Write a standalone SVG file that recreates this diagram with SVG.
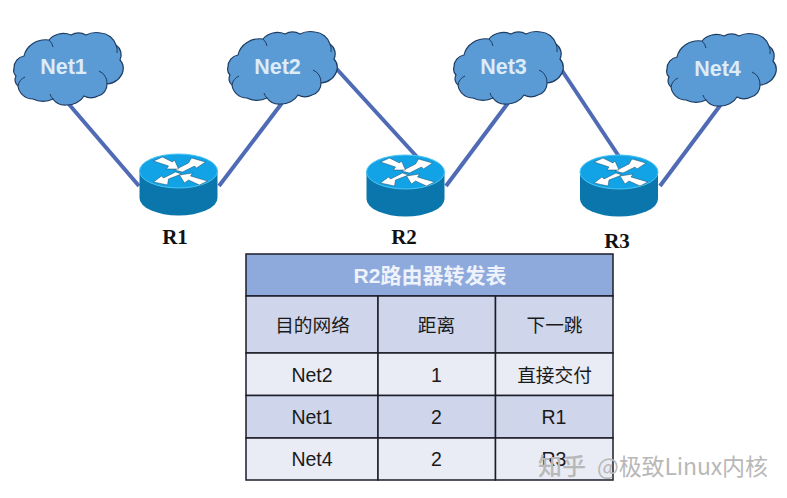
<svg xmlns="http://www.w3.org/2000/svg" width="787" height="498" viewBox="0 0 787 498">
<style>
.link{stroke:#4f6bb5;stroke-width:4;fill:none}
.cl{fill:#5b9bd5;stroke:#1d3c63;stroke-width:1.2}
.fold{fill:none;stroke:#1d3c63;stroke-width:1}
.cn{font:bold 21.5px "Liberation Sans",sans-serif;fill:#dcebf8;text-anchor:middle}
.rn{font:bold 21px "Liberation Serif",serif;fill:#111;text-anchor:middle}
.cell{stroke:#1c1c28;stroke-width:1.5}
.h{fill:#cfd5ea}.a{fill:#e9ebf5}.t{fill:#8ea9db}
.tx{font:19.500px "Liberation Sans","Noto Sans CJK SC",sans-serif;fill:#1a1a1a;text-anchor:middle}
.zh{font-size:18.700px}
.ttl{font:bold 21px "Liberation Sans","Noto Sans CJK SC",sans-serif;fill:#eef2fb;text-anchor:middle}
.wm{font-family:"Noto Sans CJK SC","Noto Sans",sans-serif;fill:#b8b8b8}
.wz{font-size:24px;font-weight:500}
.wa{font-size:23px}
.arw{fill:#fff;stroke:#1a4a68;stroke-width:.5}
</style>
<defs>
<g id="cloud">
<path class="cl" d="M24 56A22 20 0 0 1 49 40A17 14 0 0 1 71 35A13 10 0 0 1 86 35A17 12 0 0 1 101 33A17 17 0 0 1 116 45A12 12 0 0 1 120 60A11 12 0 0 1 123 71A18 17 0 0 1 107 84A12 12 0 0 1 98 96A13 11 0 0 1 84 96A19 16 0 0 1 66 105A14 12 0 0 1 53 99A17 12 0 0 1 33 99A15 15 0 0 1 18 86A8 8 0 0 1 16 76A8 8 0 0 1 14 68A12 12 0 0 1 24 56Z"/>
<path class="fold" d="M99 71A13 13 0 0 1 107 84M116 45A14 14 0 0 1 117 53M49 40A12 12 0 0 1 53 47M18 86A12 12 0 0 1 25 77M53 99A12 12 0 0 1 50 94"/>
</g>
<g id="router">
<path d="M-39 0V27A39 17.500 0 0 0 39 27V0Z" fill="#0b76ab"/>
<ellipse cx="0" cy="0" rx="39" ry="17" fill="#12a3e6" stroke="#4cc6f4" stroke-width="1"/>
<path class="arw" d="M-4-1L10-8L13-13L27-9L18-3L16-5L4 1Z"/>
<path class="arw" d="M3 3L-10 8L-11 14L-25 11L-17 5L-15 7L-3 1Z"/>
<path class="arw" d="M-25-10L-16-14L-6-9L-4-11L0-2L-12-2L-10-5Z"/>
<path class="arw" d="M29 10L21 14L10 9L6 12L1 4L14 2L12 5Z"/>
</g>
</defs>
<rect width="787" height="498" fill="#fff"/>
<g id="connectors">
<path class="link" d="M67 102L139 186"/>
<path class="link" d="M219 186L282 103"/>
<path class="link" d="M334 66L418 158"/>
<path class="link" d="M446 186L508 103"/>
<path class="link" d="M559 66L620 158"/>
<path class="link" d="M660 186L722 103"/>
</g>
<g id="net1"><use href="#cloud"/><text class="cn" x="63.500" y="74">Net1</text></g>
<g id="net2"><use href="#cloud" x="214" y="-1"/><text class="cn" x="277.500" y="74">Net2</text></g>
<g id="net3"><use href="#cloud" x="440" y="-1"/><text class="cn" x="503.500" y="74">Net3</text></g>
<g id="net4"><use href="#cloud" x="653" y="1"/><text class="cn" x="717.500" y="76">Net4</text></g>
<g id="r1"><use href="#router" x="178.500" y="171"/><text class="rn" x="175" y="244">R1</text></g>
<g id="r2"><use href="#router" x="405.500" y="172"/><text class="rn" x="404" y="244">R2</text></g>
<g id="r3"><use href="#router" x="619" y="172"/><text class="rn" x="617" y="248">R3</text></g>
<g id="table">
<rect class="cell t" x="246" y="254" width="367" height="42"/>
<rect class="cell h" x="246" y="296" width="132" height="57"/>
<rect class="cell h" x="378" y="296" width="117.500" height="57"/>
<rect class="cell h" x="495.500" y="296" width="117.500" height="57"/>
<rect class="cell a" x="246" y="353" width="132" height="42.500"/>
<rect class="cell a" x="378" y="353" width="117.500" height="42.500"/>
<rect class="cell a" x="495.500" y="353" width="117.500" height="42.500"/>
<rect class="cell h" x="246" y="395.500" width="132" height="42.500"/>
<rect class="cell h" x="378" y="395.500" width="117.500" height="42.500"/>
<rect class="cell h" x="495.500" y="395.500" width="117.500" height="42.500"/>
<rect class="cell a" x="246" y="438" width="132" height="42"/>
<rect class="cell a" x="378" y="438" width="117.500" height="42"/>
<rect class="cell a" x="495.500" y="438" width="117.500" height="42"/>
<text class="ttl" x="430" y="283">R2路由器转发表</text>
<text class="tx zh" x="312.500" y="332">目的网络</text>
<text class="tx zh" x="436.500" y="332">距离</text>
<text class="tx zh" x="554.500" y="332">下一跳</text>
<text class="tx" x="312" y="382">Net2</text>
<text class="tx" x="436.500" y="382">1</text>
<text class="tx zh" x="554.500" y="382">直接交付</text>
<text class="tx" x="312" y="424">Net1</text>
<text class="tx" x="436.500" y="424">2</text>
<text class="tx" x="554" y="424">R1</text>
<text class="tx" x="312" y="466">Net4</text>
<text class="tx" x="436.500" y="466">2</text>
<text class="tx" x="554" y="466">R3</text>
</g>
<g id="watermark">
<text class="wm wz" x="538" y="475">知乎</text>
<text class="wm wa" x="597" y="475" textLength="171">@极致Linux内核</text>
</g>
</svg>
